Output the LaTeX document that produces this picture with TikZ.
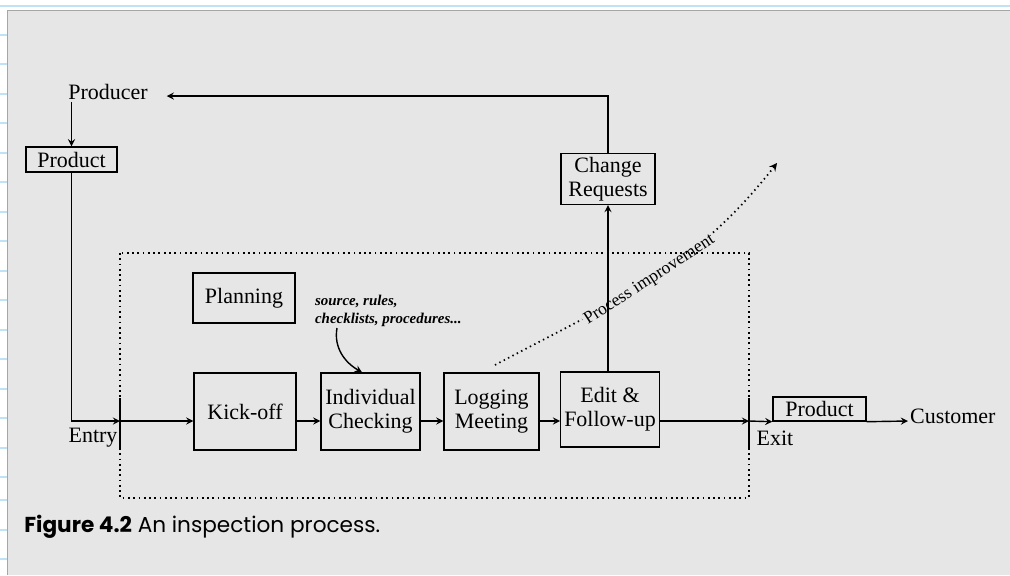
\documentclass[tikz,border=0pt]{standalone}
\usepackage{fontspec}
\setmainfont{Liberation Serif}
\newfontfamily\capfont{Poppins}
\usepackage{tikz}
\usetikzlibrary{arrows,calc,positioning}
\definecolor{paper}{HTML}{E6E6E6}
\definecolor{rule}{HTML}{BFE3F5}
\tikzset{
  stage/.style={draw,line width=0.8pt,align=center,inner sep=2pt,font=\fontsize{12.5}{13.5}\selectfont},
  tag/.style={inner sep=1pt,font=\fontsize{12.5}{13.5}\selectfont},
  flow/.style={line width=0.8pt,->,>=stealth},
}
\begin{document}
\begin{tikzpicture}[x=0.02cm,y=-0.02cm]
\useasboundingbox (0,0) rectangle (1010,575);
% paper and notebook rules
\fill[white] (0,0) rectangle (1010,575);
\draw[rule,line width=1pt] (0,6) -- (1010,6);
\foreach \yy in {35,64,94,123,153,182,212,241,271,300,330,359,389,418,448,477,500,530,559}
  \draw[rule,line width=1pt] (0,\yy) -- (7,\yy);
\fill[paper] (7,10) rectangle (1010,575);
\draw[gray!70] (7,575) -- (7,10) -- (1010,10);
% process improvement (under the other lines)
\coordinate (pistart) at (495,365);
\coordinate (piend) at (777,163);
\draw[flow,dotted,line width=1pt] (pistart) to[out=28,in=232]
  node[sloped,pos=0.5,fill=paper,inner sep=1pt,font=\fontsize{10}{11}\selectfont] (pitext) {Process improvement} (piend);
% inspection boundary
\draw[dotted,line width=1pt] (120,253) rectangle (749,498);
% nodes
\node[tag] (producer) at (108,92) {Producer};
\node[stage,minimum width=1.82cm,minimum height=0.5cm] (prodin) at (71.5,159.5) {Product};
\node[stage,minimum width=2.04cm,minimum height=1cm] (planning) at (244,298) {Planning};
\node[stage,minimum width=2.04cm,minimum height=1.54cm] (kickoff) at (245,411.5) {Kick-off};
\node[stage,minimum width=1.98cm,minimum height=1.54cm] (check) at (370.5,411.5) {Individual\\Checking};
\node[stage,minimum width=1.9cm,minimum height=1.54cm] (logging) at (491.5,411.5) {Logging\\Meeting};
\node[stage,minimum width=1.88cm,minimum height=1.5cm] (edit) at (610,409.5) {Edit \&\\Follow-up};
\node[stage,minimum width=1.88cm,minimum height=1cm] (changereq) at (608,179) {Change\\Requests};
\node[stage,minimum width=1.86cm,minimum height=0.48cm] (prodout) at (819.5,409) {Product};
\node[tag,anchor=west] (customer) at (908,416) {Customer};
\node[tag] (entrytxt) at (93,438) {Entry};
\node[tag] (exittxt) at (775,438) {Exit};
\node[inner sep=1pt,anchor=west,align=left,font=\fontsize{8.5}{10}\selectfont\bfseries\itshape] (sources) at (313,311) {source, rules,\\checklists, procedures...};
\coordinate (flowy) at (0,421);
\coordinate (entry) at (120,421);
\coordinate (exit) at (749,421);
\coordinate (srcfoot) at (337,328);
% entry and exit marks
\draw[line width=0.8pt] (120,398) -- (120,448);
\draw[line width=0.8pt] (749,398) -- (749,448);
% connectors
\draw[flow] (prodin |- producer.south) -- (prodin.north);
\draw[flow] (prodin.south) |- (entry);
\draw[flow] (entry) -- (kickoff.west |- flowy);
\draw[flow] (kickoff.east |- flowy) -- (check.west |- flowy);
\draw[flow] (check.east |- flowy) -- (logging.west |- flowy);
\draw[flow] (logging.east |- flowy) -- (edit.west |- flowy);
\draw[flow] (edit.east |- flowy) -- (exit);
\draw[flow] (exit) -- (prodout.south west);
\draw[flow] (prodout.south east) -- (customer.west |- flowy);
\draw[flow] (edit.north -| changereq) -- (changereq.south);
\draw[flow] (changereq.north) |- ([xshift=0.34cm,yshift=-0.08cm]producer.east);
\draw[flow] (srcfoot) to[out=-100,in=150] ([xshift=-0.17cm]check.north);
% caption
\node[anchor=west,inner sep=0pt,font=\capfont\fontsize{12.3}{14}\selectfont] (caption) at (24,527) {\textbf{Figure 4.2} An inspection process.};
\end{tikzpicture}
\end{document}
